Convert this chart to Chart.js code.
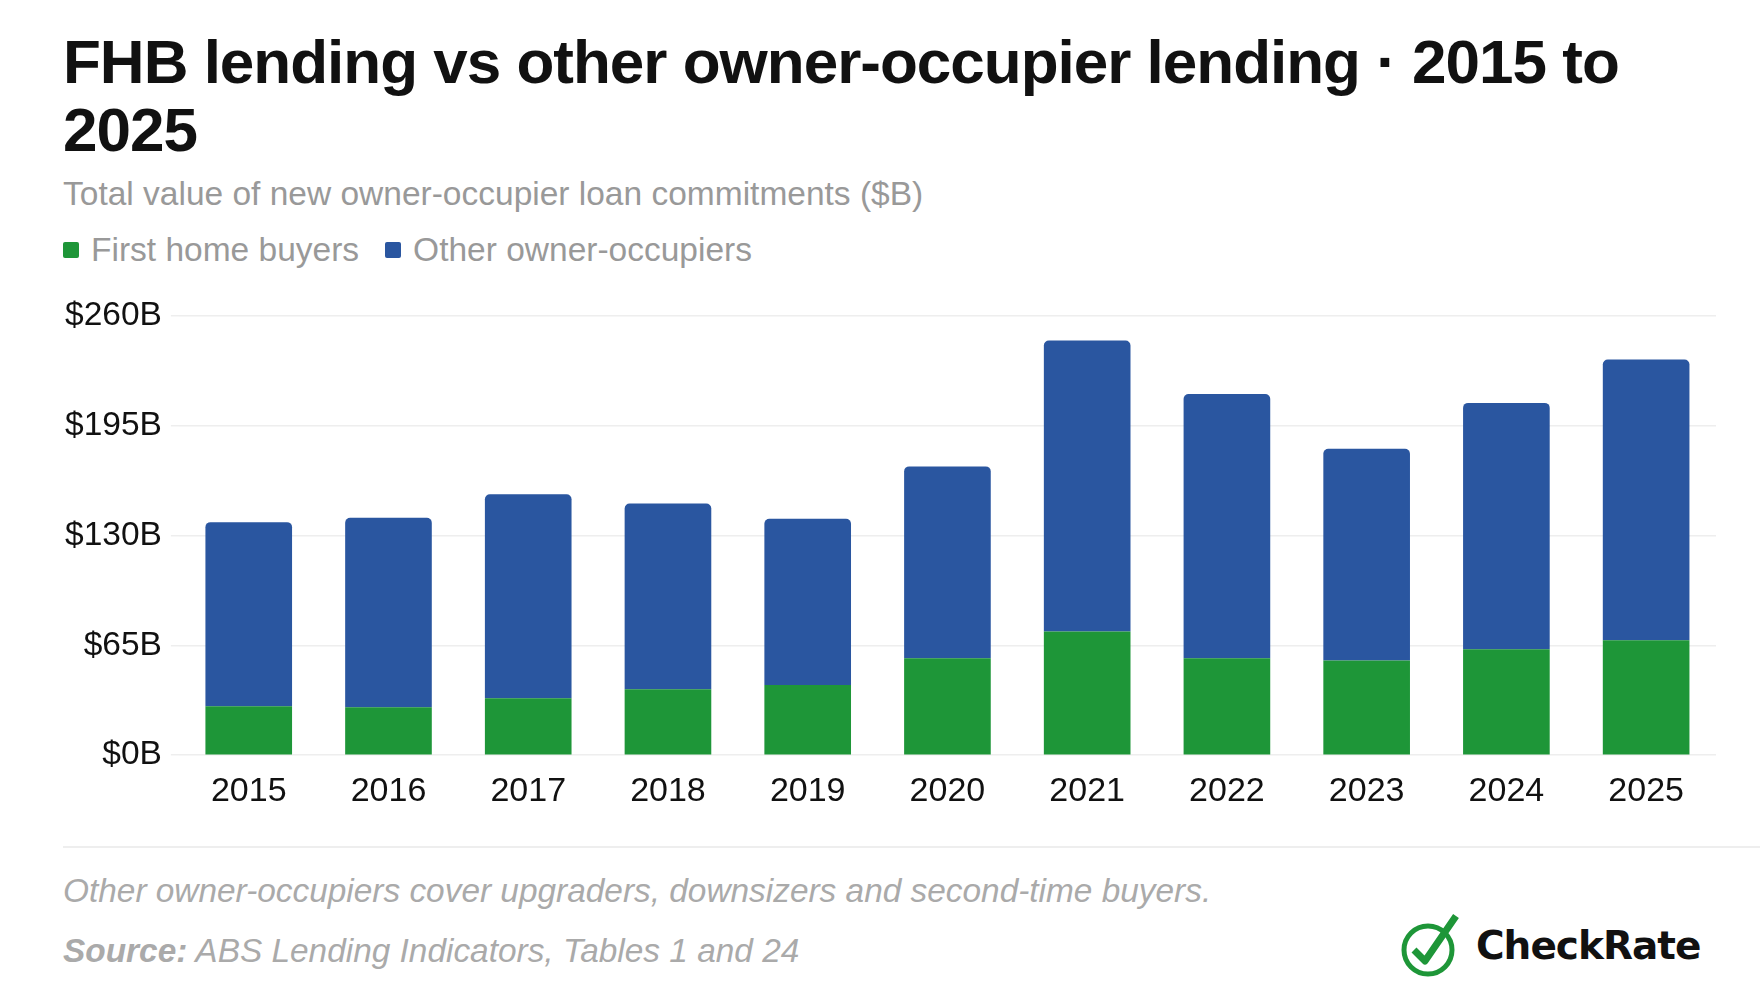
<!DOCTYPE html>
<html>
<head>
<meta charset="utf-8">
<script src="https://cdn.jsdelivr.net/npm/chart.js@4.4.1/dist/chart.umd.min.js"></script>
<style>
  body { margin: 0; background: #fff; font-family: "Liberation Sans", Arial, sans-serif; }
  #wrap { position: relative; width: 1760px; height: 1000px; overflow: hidden; }
  h1 { position: absolute; left: 63px; top: 28px; margin: 0; font-size: 62px; line-height: 68px; font-weight: bold; color: #111; letter-spacing: -1px; width: 1640px; }
  #sub { position: absolute; left: 63px; top: 175px; font-size: 33.5px; color: #999; }
  #legend { position: absolute; left: 63px; top: 231px; font-size: 33.5px; color: #999; display: flex; gap: 26px; }
  #legend span.sw { display: inline-block; width: 16px; height: 16px; border-radius: 2px; margin-right: 12px; vertical-align: 3px; }
  #chartBox { position: absolute; left: 56px; top: 287px; width: 1660px; height: 533px; }
  #rule { position: absolute; left: 63px; top: 846px; width: 1697px; height: 2px; background: #eee; }
  #note { position: absolute; left: 63px; top: 872px; font-size: 33.4px; font-style: italic; color: #aaa; }
  #src { position: absolute; left: 63px; top: 932px; font-size: 33.4px; font-style: italic; color: #aaa; }
  #logo { position: absolute; left: 1400px; top: 912px; display: flex; align-items: center; }
  #logo b { font-family: "DejaVu Sans", sans-serif; font-size: 39px; color: #111; margin-left: 14px; letter-spacing: -1px; }
</style>
</head>
<body>
<div id="wrap">
  <h1>FHB lending vs other owner-occupier lending · 2015 to 2025</h1>
  <div id="sub">Total value of new owner-occupier loan commitments ($B)</div>
  <div id="legend">
    <div><span class="sw" style="background:#1e9638"></span>First home buyers</div>
    <div><span class="sw" style="background:#2a56a0"></span>Other owner-occupiers</div>
  </div>
  <div id="chartBox"><canvas id="c"></canvas></div>
  <div id="rule"></div>
  <div id="note">Other owner-occupiers cover upgraders, downsizers and second-time buyers.</div>
  <div id="src"><b>Source:</b> ABS Lending Indicators, Tables 1 and 24</div>
  <div id="logo">
    <svg width="62" height="66" viewBox="0 0 62 66">
      <circle cx="28" cy="38" r="24" fill="none" stroke="#1e9638" stroke-width="5"/>
      <path d="M14 38 L25 49 L56 4" fill="none" stroke="#1e9638" stroke-width="7" stroke-linejoin="round"/>
    </svg>
    <b>CheckRate</b>
  </div>
</div>
<script>
const years = ['2015','2016','2017','2018','2019','2020','2021','2022','2023','2024','2025'];
const firstHomeBuyers = [29, 28.4, 33.7, 39, 41.6, 57.4, 73.3, 57.4, 56, 62.7, 68];
const otherOwnerOccupiers = [109, 112.2, 120.8, 110, 98.4, 113.6, 172.2, 156.5, 125.5, 145.9, 166.3];
const yTicks = [0, 65, 130, 195, 260];

new Chart(document.getElementById('c'), {
  type: 'bar',
  data: {
    labels: years,
    datasets: [
      { label: 'First home buyers', data: firstHomeBuyers, backgroundColor: '#1e9638', categoryPercentage: 0.62, barPercentage: 1 },
      { label: 'Other owner-occupiers', data: otherOwnerOccupiers, backgroundColor: '#2a56a0', categoryPercentage: 0.62, barPercentage: 1,
        borderRadius: { topLeft: 5, topRight: 5, bottomLeft: 0, bottomRight: 0 }, borderSkipped: 'bottom' }
    ]
  },
  options: {
    responsive: true,
    maintainAspectRatio: false,
    animation: false,
    layout: { padding: { top: 10, right: 0 } },
    plugins: { legend: { display: false }, tooltip: { enabled: false } },
    scales: {
      x: {
        stacked: true,
        grid: { display: false },
        border: { display: false },
        ticks: { color: '#111', font: { family: 'Liberation Sans', size: 34 }, padding: 8 }
      },
      y: {
        stacked: true,
        min: 0, max: 260,
        afterBuildTicks: axis => { axis.ticks = yTicks.map(v => ({ value: v })); },
        grid: { color: '#eeeeee', lineWidth: 1.5 },
        border: { display: false },
        ticks: { color: '#111', font: { family: 'Liberation Sans', size: 33.5 }, padding: 9, callback: v => '$' + v + 'B' }
      }
    }
  }
});
</script>
</body>
</html>
